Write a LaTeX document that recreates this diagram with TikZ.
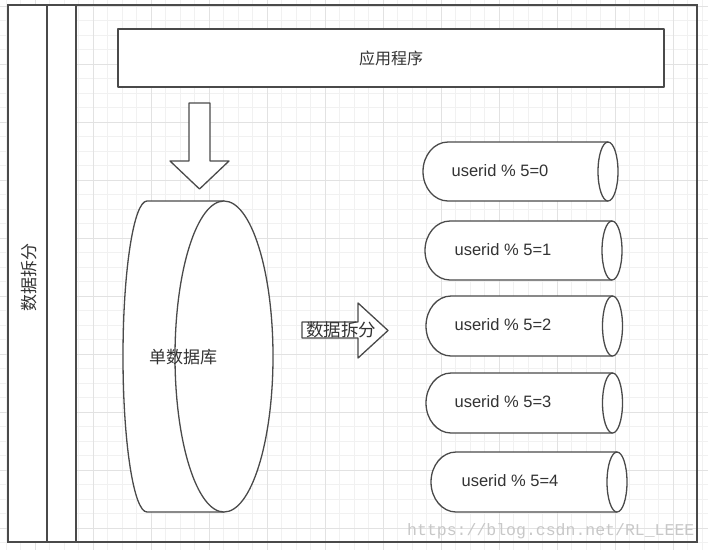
\documentclass[tikz,border=0pt]{standalone}
\usepackage{fontspec}
\setmainfont{Liberation Sans}
\newfontfamily\cjk{Noto Sans CJK SC}
\newfontfamily\wmfont{Liberation Mono}
\definecolor{ln}{HTML}{4A4A4A}
\definecolor{tx}{HTML}{333333}
\definecolor{gminor}{HTML}{F1F1F1}
\definecolor{gmajor}{HTML}{E2E2E2}
\definecolor{wm}{HTML}{C8C8C8}
\begin{document}
\begin{tikzpicture}[x=1pt,y=-1pt,
  frame/.style={draw=ln, line width=1.6pt},
  shp/.style={draw=ln, line width=1.3pt, fill=white, line join=round},
  cjktxt/.style={text=tx, inner sep=0pt, font=\cjk\fontsize{16}{18}\selectfont},
  usertxt/.style={text=tx, inner sep=0pt, font=\fontsize{16.5}{18}\selectfont},
  gridminor/.style={draw=gminor, line width=0.6pt},
  gridmajor/.style={draw=gmajor, line width=0.8pt}]
\useasboundingbox (0,0) rectangle (708,550);
\fill[white] (0,0) rectangle (708,550);
% background grid
\foreach \i in {0,...,48} { \draw[gridminor] ({6+14.5*\i},0) -- ({6+14.5*\i},550); }
\foreach \i in {0,...,37} { \draw[gridminor] (0,{6+14.5*\i}) -- (708,{6+14.5*\i}); }
\foreach \i in {0,...,11} { \draw[gridmajor] ({35+58*\i},0) -- ({35+58*\i},550); }
\foreach \i in {0,...,9} { \draw[gridmajor] (0,{6+58*\i}) -- (708,{6+58*\i}); }
% swimlane frame
\fill[white] (8,5) rectangle (76,542);
\draw[frame] (8,5) rectangle (697,542);
\draw[frame] (47,5) -- (47,542);
\draw[frame] (76,5) -- (76,542);
\node[cjktxt, font=\cjk\fontsize{17}{18}\selectfont, rotate=90] (lane) at (29,277) {数据拆分};
% application box
\node[shp, minimum width=546pt, minimum height=58pt, cjktxt] (app) at (391,58) {应用程序};
% down arrow
\draw[shp] (189,103) -- (210,103) -- (210,161) -- (229,161) -- (199.5,189) -- (170,161) -- (189,161) -- cycle;
% big database cylinder
\draw[shp] (224,201) -- (147,201) arc[start angle=90, end angle=270, x radius=24pt, y radius=155.5pt] -- (224,512);
\draw[shp] (224,356.5) ellipse[x radius=49pt, y radius=155.5pt];
\node[cjktxt, font=\cjk\fontsize{17}{18}\selectfont] (db) at (183,357) {单数据库};
% split arrow
\draw[shp] (302,322) -- (358,322) -- (358,303) -- (388,330.5) -- (358,358) -- (358,338) -- (302,338) -- cycle;
\node[cjktxt, font=\cjk\fontsize{17.5}{18}\selectfont] (split) at (341,330) {数据拆分};
% shard cylinders
\foreach \T/\B/\L/\E/\tx/\k in {142/201/423/608/500/0, 221/280/425/612/503/1, 296/356/426/612.5/503/2, 373/433/426/612.5/503/3, 452/512/431/617/510/4}{
  \pgfmathsetmacro{\H}{(\B-\T)/2}
  \pgfmathsetmacro{\M}{(\B+\T)/2}
  \draw[shp] (\E,\T) -- ({\L+25},\T) arc[start angle=90, end angle=270, x radius=25pt, y radius=\H pt] -- (\E,\B);
  \draw[shp] (\E,\M) ellipse[x radius=10pt, y radius=\H pt];
  \node[usertxt] (s\k) at (\tx,{\M-1}) {userid \% 5=\k};
}
% watermark
\node[text=wm, inner sep=0pt, font=\wmfont\fontsize{16.5}{18}\selectfont, anchor=west] (wmk) at (407,531) {https://blog.csdn.net/RL\_LEEE};
\end{tikzpicture}
\end{document}
